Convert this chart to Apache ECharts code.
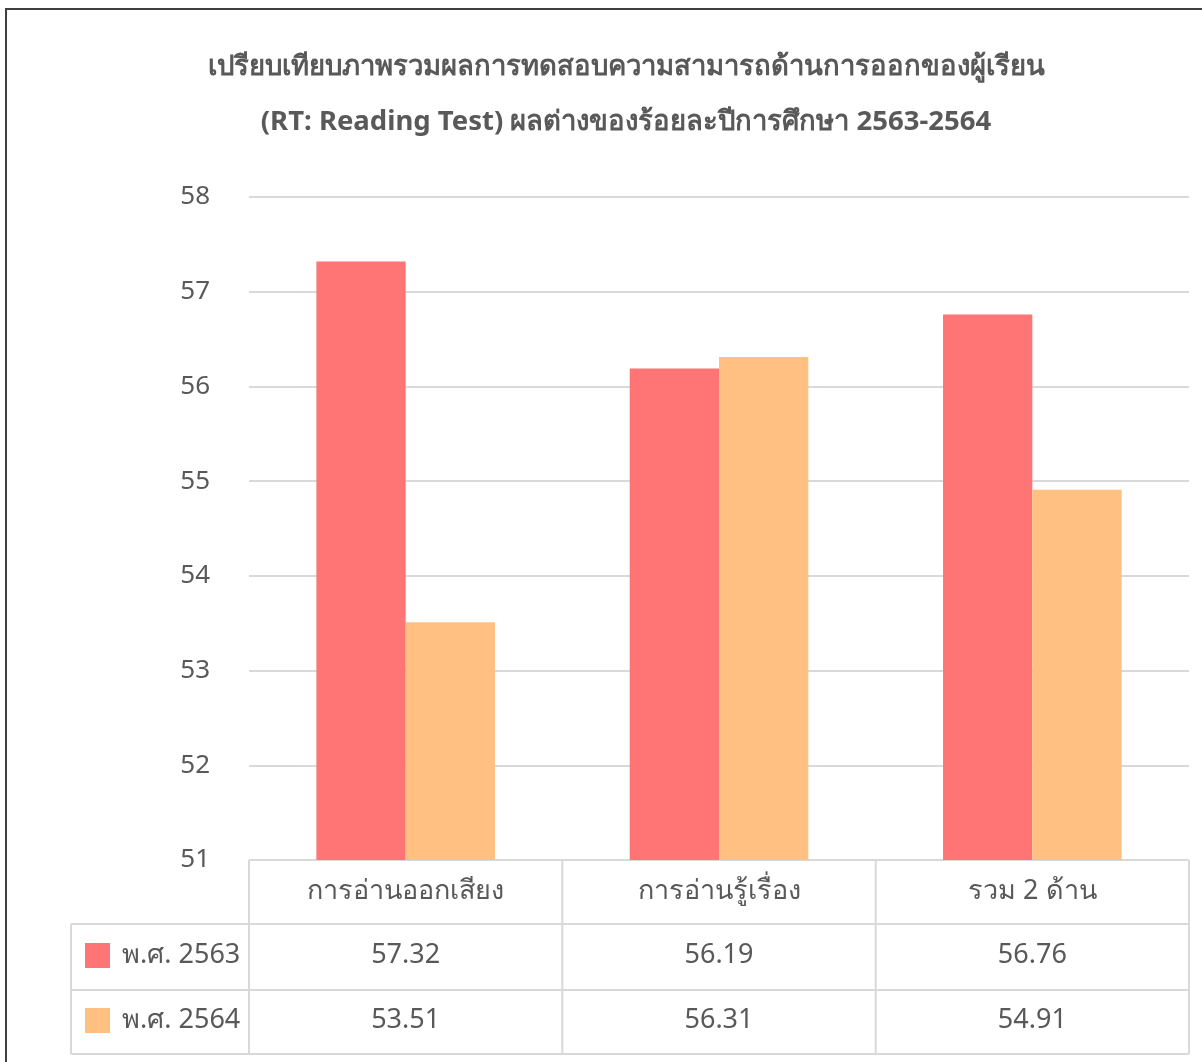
<!DOCTYPE html>
<html>
<head>
<meta charset="utf-8">
<title>ผลการทดสอบความสามารถด้านการอ่านออกเสียง</title>
<script src="https://cdn.jsdelivr.net/npm/echarts@6/dist/echarts.min.js"></script>
<style>
  html, body { margin: 0; padding: 0; background: #ffffff; }
  #chart { width: 1202px; height: 1062px; }
</style>
</head>
<body>
<div id="chart"></div>
<script>
// Categories, series and axis ticks
const categories = ['การอ่านออกเสียง', 'การอ่านรู้เรื่อง', 'รวม 2 ด้าน'];
const seriesNames = ['พ.ศ. 2563', 'พ.ศ. 2564'];
const values2563 = [57.32, 56.19, 56.76];
const values2564 = [53.51, 56.31, 54.91];
const yTicks = [51, 52, 53, 54, 55, 56, 57, 58];
const titleLines = [
  'เปรียบเทียบภาพรวมผลการทดสอบความสามารถด้านการออกของผู้เรียน',
  '(RT: Reading Test) ผลต่างของร้อยละปีการศึกษา 2563-2564'
];

const FONT = '"Noto Sans", "Open Sans", sans-serif';
const TEXT = '#595959';
const LINE = '#d9d9d9';
const COLORS = ['#ff7575', '#ffc081'];

// Plot geometry
const W = 1202, H = 1062;
const gridLeft = 249, gridRight = 13, gridTop = 197, gridBottom = 202;
const plotRight = W - gridRight;
const plotBottom = H - gridBottom;
const legendColLeft = 71;
const rowBounds = [plotBottom, 924, 990, 1054];

const chart = echarts.init(document.getElementById('chart'), null, { renderer: 'canvas' });

const option = {
  animation: false,
  backgroundColor: '#ffffff',
  title: {
    text: titleLines.join('\n'),
    left: 621,
    top: 35,
    textAlign: 'center',
    textStyle: {
      fontFamily: FONT,
      fontSize: 27.5,
      fontWeight: 'bold',
      color: TEXT,
      lineHeight: 55
    }
  },
  grid: { left: gridLeft, right: gridRight, top: gridTop, bottom: gridBottom, containLabel: false },
  xAxis: {
    type: 'category',
    data: categories,
    axisLine: { show: false },
    axisTick: { show: false },
    axisLabel: { show: false },
    splitLine: { show: false }
  },
  yAxis: {
    type: 'value',
    min: yTicks[0],
    max: yTicks[yTicks.length - 1],
    interval: 1,
    axisLine: { show: false },
    axisTick: { show: false },
    axisLabel: {
      margin: 39,
      fontFamily: FONT,
      fontSize: 26,
      color: TEXT
    },
    splitLine: { lineStyle: { color: LINE, width: 2 } }
  },
  series: [
    {
      name: seriesNames[0],
      type: 'bar',
      data: values2563,
      barGap: '0%',
      barCategoryGap: '43%',
      itemStyle: { color: COLORS[0] }
    },
    {
      name: seriesNames[1],
      type: 'bar',
      data: values2564,
      barGap: '0%',
      barCategoryGap: '43%',
      itemStyle: { color: COLORS[1] }
    }
  ]
};

chart.setOption(option);

// Data table under the plot, laid out from the category axis
function buildTable() {
  const els = [];
  const cellW = (plotRight - gridLeft) / categories.length;
  const lineStyle = { stroke: LINE, lineWidth: 2 };
  const top = rowBounds[0], bottom = rowBounds[rowBounds.length - 1];

  // frame around chart
  els.push({
    type: 'rect',
    shape: { x: 6, y: 9, width: 1220, height: 1080 },
    style: { fill: null, stroke: '#404040', lineWidth: 2 },
    silent: true
  });

  // vertical rules (the top rule is the y-axis split line at the minimum)
  for (let i = 0; i <= categories.length; i++) {
    const x = gridLeft + i * cellW;
    els.push({ type: 'line', shape: { x1: x, y1: top, x2: x, y2: bottom }, style: lineStyle, silent: true });
  }
  els.push({ type: 'line', shape: { x1: legendColLeft, y1: rowBounds[1], x2: legendColLeft, y2: bottom }, style: lineStyle, silent: true });

  // horizontal rules
  for (let r = 1; r < rowBounds.length; r++) {
    els.push({ type: 'line', shape: { x1: legendColLeft, y1: rowBounds[r], x2: plotRight, y2: rowBounds[r] }, style: lineStyle, silent: true });
  }

  const textStyle = (txt, x, y, align) => ({
    type: 'text',
    x: x, y: y,
    style: {
      text: txt,
      fontFamily: FONT,
      fontSize: 27,
      fill: TEXT,
      align: align || 'center',
      verticalAlign: 'middle'
    },
    silent: true
  });

  // category header
  categories.forEach((c, i) => {
    const cx = chart.convertToPixel({ xAxisIndex: 0 }, c);
    els.push(textStyle(c, cx, (rowBounds[0] + rowBounds[1]) / 2 - 1));
  });

  // series rows
  const rows = [values2563, values2564];
  rows.forEach((vals, r) => {
    const cy = (rowBounds[r + 1] + rowBounds[r + 2]) / 2 - 2;
    els.push({
      type: 'rect',
      shape: { x: 85, y: cy - 12, width: 25, height: 25 },
      style: { fill: COLORS[r] },
      silent: true
    });
    els.push(textStyle(seriesNames[r], 122, cy, 'left'));
    vals.forEach((v, i) => {
      const cx = chart.convertToPixel({ xAxisIndex: 0 }, categories[i]);
      els.push(textStyle(v.toFixed(2), cx, cy));
    });
  });

  chart.setOption({ graphic: { elements: els } });
}

buildTable();
</script>
</body>
</html>
